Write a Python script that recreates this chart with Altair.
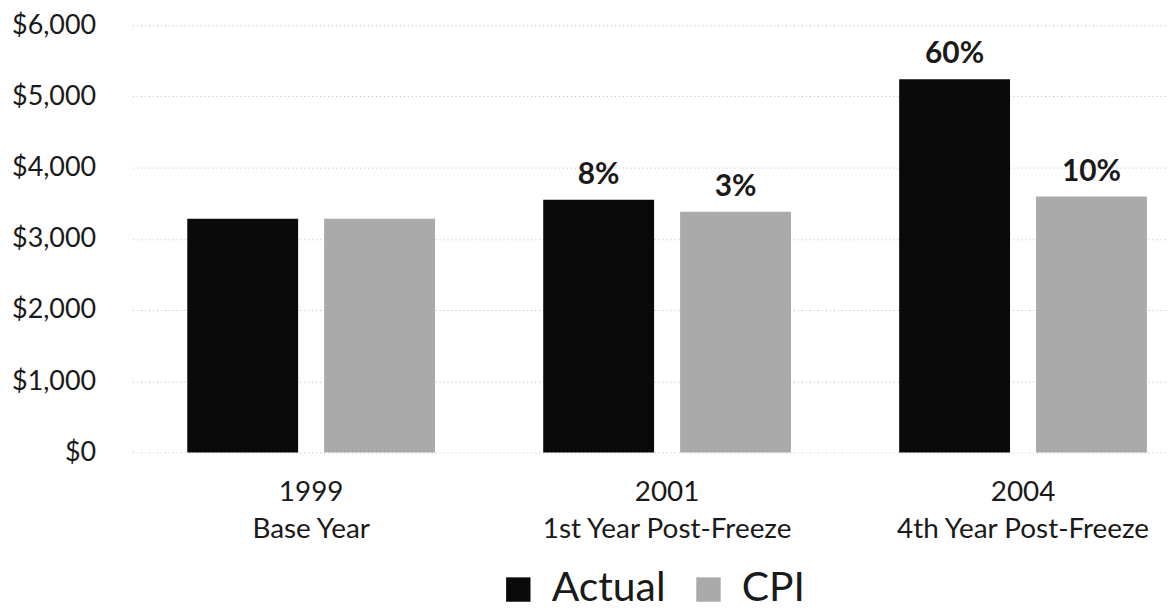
import altair as alt
import pandas as pd

groups = ["1999|Base Year", "2001|1st Year Post-Freeze", "2004|4th Year Post-Freeze"]
series = ["Actual", "CPI"]
actual = [3280, 3550, 5240]
cpi = [3280, 3380, 3595]
actual_labels = ["", "8%", "60%"]
cpi_labels = ["", "3%", "10%"]

rows = []
for g, a, c, la, lc in zip(groups, actual, cpi, actual_labels, cpi_labels):
    rows.append({"group": g, "series": "Actual", "value": a, "label": la})
    rows.append({"group": g, "series": "CPI", "value": c, "label": lc})
df = pd.DataFrame(rows)

FONT = "Lato"

x_scale = alt.Scale(paddingInner=0.304, paddingOuter=0.1066, align=0.722)
xoff_scale = alt.Scale(paddingInner=0.19, paddingOuter=0)
y_scale = alt.Scale(domain=[0, 6000], nice=False)

x_enc = alt.X(
    "group:N",
    sort=groups,
    title=None,
    scale=x_scale,
    axis=alt.Axis(
        labelExpr="split(datum.label, '|')",
        labelAngle=0,
        labelFont=FONT,
        labelFontSize=28,
        labelLineHeight=38,
        labelColor="#1a1a1a",
        labelPadding=26,
        labelLimit=0,
        ticks=False,
        domain=False,
        grid=False,
    ),
)
y_enc = alt.Y(
    "value:Q",
    title=None,
    scale=y_scale,
    axis=alt.Axis(
        values=[0, 1000, 2000, 3000, 4000, 5000, 6000],
        format="$,.0f",
        labelFont=FONT,
        labelFontSize=27,
        labelColor="#1a1a1a",
        labelPadding=37,
        ticks=False,
        domain=False,
        grid=True,
        gridColor="#b8b8b8",
        gridDash=[1, 3],
        gridWidth=1,
    ),
)

bars = alt.Chart(df).mark_bar().encode(
    x=x_enc,
    xOffset=alt.XOffset("series:N", sort=series, scale=xoff_scale),
    y=y_enc,
    color=alt.Color(
        "series:N",
        sort=series,
        scale=alt.Scale(domain=series, range=["#0a0a0a", "#aaaaaa"]),
        legend=alt.Legend(
            title=None,
            orient="none",
            legendX=367,
            legendY=546,
            direction="horizontal",
            symbolType="square",
            symbolSize=600,
            symbolStrokeWidth=0,
            labelFont=FONT,
            labelFontSize=41,
            labelColor="#1a1a1a",
            labelOffset=13,
            columnPadding=22,
            labelLimit=0,
        ),
    ),
)

texts = alt.Chart(df).mark_text(
    baseline="alphabetic", dy=-16, fontSize=30, fontWeight="bold", font=FONT, color="#1a1a1a"
).encode(
    x=alt.X("group:N", sort=groups, scale=x_scale),
    xOffset=alt.XOffset("series:N", sort=series, scale=xoff_scale),
    y=alt.Y("value:Q", scale=y_scale),
    text="label:N",
)

chart = (
    alt.layer(bars, texts)
    .properties(
        width=1040,
        height=429,
        background="white",
        autosize=alt.AutoSizeParams(type="none"),
        padding={"left": 125, "top": 16, "right": 0, "bottom": 156},
    )
    .configure_view(strokeWidth=0, stroke="transparent")
    .configure_axis(domain=False, ticks=False)
)

chart.save("out.html", embed_options={"renderer": "svg", "actions": False})
